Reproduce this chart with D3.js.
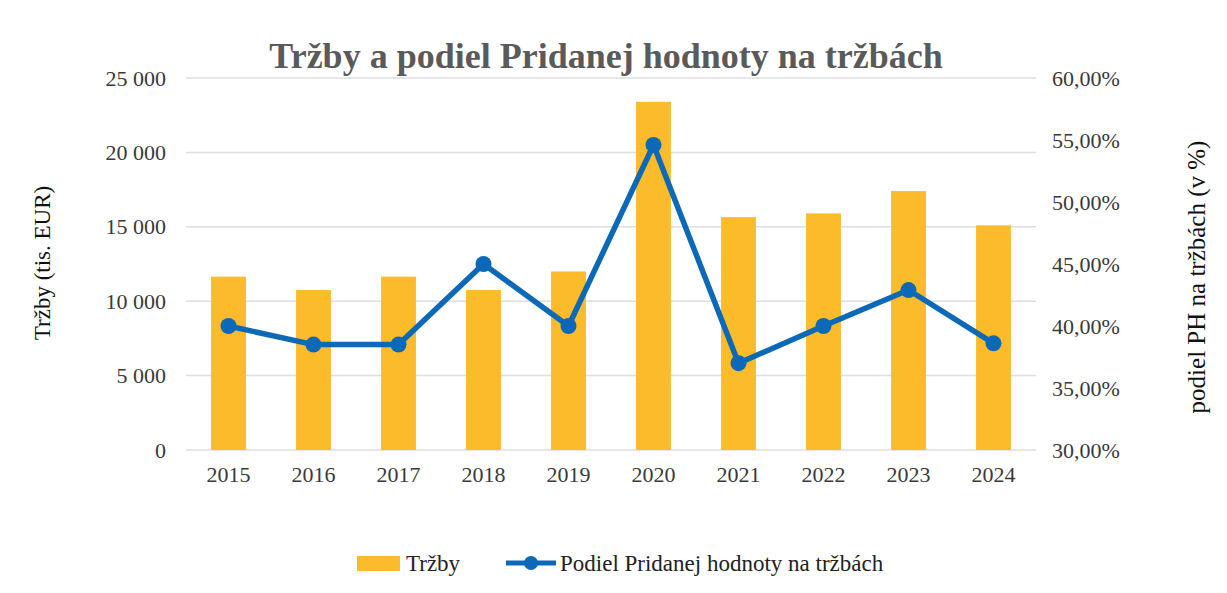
<!DOCTYPE html>
<html>
<head>
<meta charset="utf-8">
<script src="https://cdn.jsdelivr.net/npm/d3@7"></script>
<style>
	body { margin: 0; background: #fff; }
	text { font-family: "Liberation Serif", "DejaVu Serif", serif; }
</style>
</head>
<body>
<svg width="1227" height="593"></svg>
<script>
(function () {

	var years = ["2015", "2016", "2017", "2018", "2019", "2020", "2021", "2022", "2023", "2024"];
	var trzby = [11650, 10750, 11650, 10750, 12000, 23400, 15650, 15900, 17400, 15100];
	var podiel = [40.0, 38.5, 38.5, 45.0, 40.0, 54.6, 37.0, 40.0, 42.9, 38.6];
	var leftTicks = [0, 5000, 10000, 15000, 20000, 25000];
	var rightTicks = [30, 35, 40, 45, 50, 55, 60];

	var svg = d3.select("svg");

	var barColor = "#fbbb2a";
	var lineColor = "#0b69b8";

	var xScale = d3.scaleBand()
		.domain(years)
		.range([186, 1036])
		.paddingInner(0.59)
		.paddingOuter(0.295);

	var yLeft = d3.scaleLinear()
		.domain([0, 25000])
		.range([450, 78]);

	var yRight = d3.scaleLinear()
		.domain([30, 60])
		.range([450, 78]);

	// gridlines
	svg.append("g")
		.selectAll("line")
		.data(leftTicks)
		.enter()
		.append("line")
		.attr("x1", 186)
		.attr("x2", 1036)
		.attr("y1", function(d){ return yLeft(d); })
		.attr("y2", function(d){ return yLeft(d); })
		.attr("stroke", "#dedede")
		.attr("stroke-width", 1.5);

	// title
	svg.append("text")
		.attr("x", 606)
		.attr("y", 68)
		.attr("text-anchor", "middle")
		.attr("font-size", 36)
		.attr("font-weight", "bold")
		.attr("fill", "#5a5a5a")
		.text("Tržby a podiel Pridanej hodnoty na tržbách");

	var fmtLeft = function(d){
		return d3.format(",")(d).replace(/,/g, " ");
	};
	var fmtRight = function(d){
		return d.toFixed(2).replace(".", ",") + "%";
	};

	function styleTicks(g) {
		g.select(".domain").remove();
		g.selectAll("text")
			.attr("font-size", 22)
			.attr("fill", "#3a3a3a")
			.style("font-family", "'Liberation Serif', serif");
	}

	// left axis
	svg.append("g")
		.attr("transform", "translate(166,0)")
		.call(d3.axisLeft(yLeft).tickValues(leftTicks).tickFormat(fmtLeft).tickSize(0).tickPadding(0))
		.call(styleTicks);

	// right axis
	svg.append("g")
		.attr("transform", "translate(1052,0)")
		.call(d3.axisRight(yRight).tickValues(rightTicks).tickFormat(fmtRight).tickSize(0).tickPadding(0))
		.call(styleTicks);

	// bottom axis
	svg.append("g")
		.attr("transform", "translate(0,466)")
		.call(d3.axisBottom(xScale).tickSize(0).tickPadding(0))
		.call(styleTicks);

	// axis titles
	svg.append("text")
		.attr("transform", "translate(50,263) rotate(-90)")
		.attr("text-anchor", "middle")
		.attr("font-size", 23)
		.attr("fill", "#111")
		.text("Tržby (tis. EUR)");

	svg.append("text")
		.attr("transform", "translate(1205,277) rotate(-90)")
		.attr("text-anchor", "middle")
		.attr("font-size", 25)
		.attr("fill", "#111")
		.text("podiel PH na tržbách (v %)");

	// bars
	svg.append("g")
		.selectAll("rect")
		.data(years)
		.enter()
		.append("rect")
		.attr("x", function(d){ return xScale(d); })
		.attr("width", xScale.bandwidth())
		.attr("y", function(d, i){ return yLeft(trzby[i]); })
		.attr("height", function(d, i){ return yLeft(0) - yLeft(trzby[i]); })
		.attr("fill", barColor);

	// line
	var line = d3.line()
		.x(function(d, i){ return xScale(years[i]) + xScale.bandwidth() / 2; })
		.y(function(d){ return yRight(d); });

	svg.append("path")
		.datum(podiel)
		.attr("d", line)
		.attr("fill", "none")
		.attr("stroke", lineColor)
		.attr("stroke-width", 5.5)
		.attr("stroke-linejoin", "round");

	svg.append("g")
		.selectAll("circle")
		.data(podiel)
		.enter()
		.append("circle")
		.attr("cx", function(d, i){ return xScale(years[i]) + xScale.bandwidth() / 2; })
		.attr("cy", function(d){ return yRight(d); })
		.attr("r", 8)
		.attr("fill", lineColor);

	// legend
	var legend = svg.append("g");
	legend.append("rect")
		.attr("x", 357)
		.attr("y", 556)
		.attr("width", 43)
		.attr("height", 15)
		.attr("fill", barColor);
	legend.append("text")
		.attr("x", 406)
		.attr("y", 571)
		.attr("font-size", 23)
		.attr("fill", "#222")
		.text("Tržby");
	legend.append("line")
		.attr("x1", 506)
		.attr("x2", 556)
		.attr("y1", 563)
		.attr("y2", 563)
		.attr("stroke", lineColor)
		.attr("stroke-width", 5);
	legend.append("circle")
		.attr("cx", 531)
		.attr("cy", 563)
		.attr("r", 7)
		.attr("fill", lineColor);
	legend.append("text")
		.attr("x", 560)
		.attr("y", 571)
		.attr("font-size", 23)
		.attr("fill", "#222")
		.text("Podiel Pridanej hodnoty na tržbách");

})();
</script>
</body>
</html>
